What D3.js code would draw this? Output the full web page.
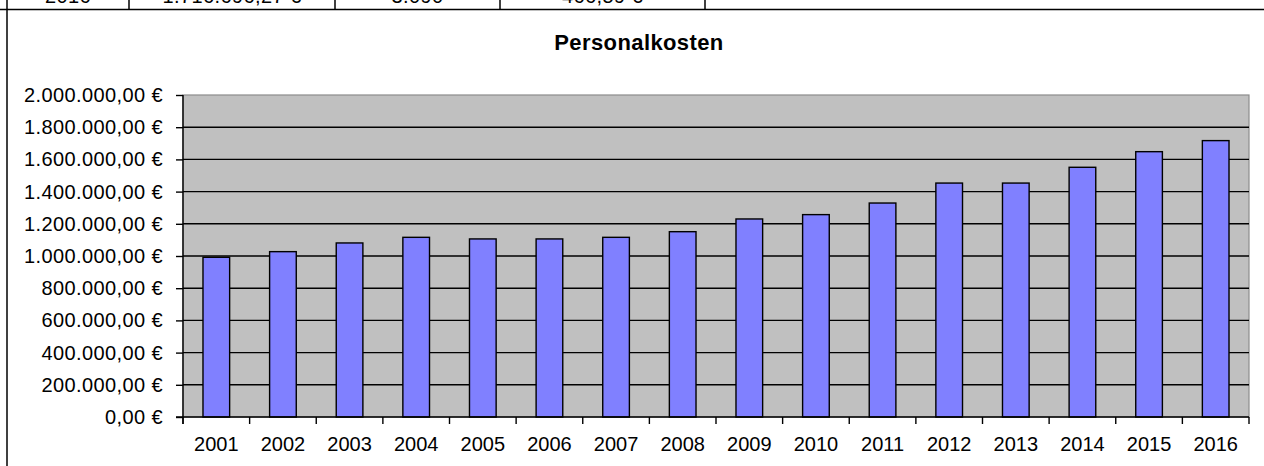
<!DOCTYPE html>
<html>
<head>
<meta charset="utf-8">
<script src="https://cdn.jsdelivr.net/npm/d3@7"></script>
<style>
  body { margin: 0; background: #fff; }
  svg { display: block; font-family: "Liberation Sans", Arial, sans-serif; }
</style>
</head>
<body>
<svg id="chart"></svg>
<script>
// data
const years = ["2001", "2002", "2003", "2004", "2005", "2006", "2007", "2008",
               "2009", "2010", "2011", "2012", "2013", "2014", "2015", "2016"];
const costs = [992000, 1027000, 1081000, 1116000, 1106000, 1106000, 1116000, 1151000,
               1230000, 1257000, 1329000, 1453000, 1453000, 1551000, 1648000, 1716696.27];
const yTickValues = [0, 200000, 400000, 600000, 800000, 1000000,
                     1200000, 1400000, 1600000, 1800000, 2000000];
const tableRow = ["2016", "1.716.696,27 €", "3.090", "466,59 €"];
const chartTitle = "Personalkosten";

const width = 1264;
const height = 466;
const plot = { left: 183, right: 1249, top: 95, bottom: 417 };
const cellEdges = [7, 129, 335, 500, 705];

const svg = d3.select("#chart")
              .attr("width", width)
              .attr("height", height);

const de = d3.formatLocale({ decimal: ",", thousands: ".", grouping: [3], currency: ["", " €"] });
const euro = de.format("$,.2f");

// scales
const x = d3.scaleBand()
            .domain(years)
            .range([plot.left, plot.right])
            .paddingInner(0.6)
            .paddingOuter(0.3);
const step = (plot.right - plot.left) / years.length;

const y = d3.scaleLinear()
            .domain([0, 2000000])
            .range([plot.bottom, plot.top]);

// cut-off table row above the chart
svg.append("line")
   .attr("x1", 0).attr("x2", width)
   .attr("y1", 9.5).attr("y2", 9.5)
   .style("stroke", "#000").style("stroke-width", 1.5);

svg.selectAll(".cell-edge")
   .data(cellEdges)
   .enter()
   .append("line")
     .attr("class", "cell-edge")
     .attr("x1", d => d).attr("x2", d => d)
     .attr("y1", 0).attr("y2", 10)
     .style("stroke", "#000").style("stroke-width", 1.5);

svg.selectAll(".cell-text")
   .data(tableRow)
   .enter()
   .append("text")
     .attr("class", "cell-text")
     .attr("x", (d, i) => (cellEdges[i] + cellEdges[i + 1]) / 2)
     .attr("y", 3)
     .attr("text-anchor", "middle")
     .style("font-size", "20px")
     .style("letter-spacing", "0.4px")
     .text(d => d);

// chart area left border
svg.append("line")
   .attr("x1", 7).attr("x2", 7)
   .attr("y1", 9).attr("y2", height)
   .style("stroke", "#000").style("stroke-width", 1.5);

// title
svg.append("text")
   .attr("x", 639)
   .attr("y", 50)
   .attr("text-anchor", "middle")
   .style("font-size", "22px")
   .style("font-weight", "bold")
   .style("letter-spacing", "0.4px")
   .text(chartTitle);

// plot area
svg.append("rect")
   .attr("x", plot.left)
   .attr("y", plot.top)
   .attr("width", plot.right - plot.left)
   .attr("height", plot.bottom - plot.top)
   .style("fill", "#c0c0c0")
   .style("stroke", "#8c8c8c")
   .style("stroke-width", 1.2);

// gridlines
svg.selectAll(".grid")
   .data(yTickValues.filter(d => d > 0 && d < 2000000))
   .enter()
   .append("line")
     .attr("class", "grid")
     .attr("x1", plot.left).attr("x2", plot.right)
     .attr("y1", d => y(d)).attr("y2", d => y(d))
     .style("stroke", "#000")
     .style("stroke-width", 1.4);

// bars
svg.selectAll(".bar")
   .data(years)
   .enter()
   .append("rect")
     .attr("class", "bar")
     .attr("x", d => x(d))
     .attr("y", (d, i) => y(costs[i]))
     .attr("width", x.bandwidth())
     .attr("height", (d, i) => y(0) - y(costs[i]))
     .style("fill", "#8080ff")
     .style("stroke", "#000")
     .style("stroke-width", 1.4);

// y axis
const yAxis = svg.append("g")
                 .attr("transform", `translate(${plot.left},0)`)
                 .call(d3.axisLeft(y)
                         .tickValues(yTickValues)
                         .tickSize(7)
                         .tickPadding(13)
                         .tickFormat(euro));
yAxis.select(".domain")
     .attr("d", `M0,${plot.top}V${plot.bottom + 7}`)
     .style("stroke-width", 1.4);
yAxis.selectAll(".tick line").style("stroke-width", 1.4);
yAxis.selectAll("text")
     .style("font-size", "20px")
     .style("letter-spacing", "0.4px")
     .style("fill", "#000")
     .style("font-family", "'Liberation Sans', Arial, sans-serif");

// x axis
const xAxis = svg.append("g")
                 .attr("transform", `translate(0,${plot.bottom})`)
                 .call(d3.axisBottom(x).tickSize(0).tickPadding(20));
xAxis.select(".domain")
     .attr("d", `M${plot.left - 7},0H${plot.right}`)
     .style("stroke-width", 1.4);
xAxis.selectAll("text")
     .style("font-size", "20px")
     .style("fill", "#000")
     .style("font-family", "'Liberation Sans', Arial, sans-serif");

// category separators below the axis
xAxis.selectAll(".sep")
     .data(d3.range(years.length + 1))
     .enter()
     .append("line")
       .attr("class", "sep")
       .attr("x1", i => plot.left + i * step)
       .attr("x2", i => plot.left + i * step)
       .attr("y1", 0).attr("y2", 7)
       .style("stroke", "#000")
       .style("stroke-width", 1.4);
</script>
</body>
</html>
